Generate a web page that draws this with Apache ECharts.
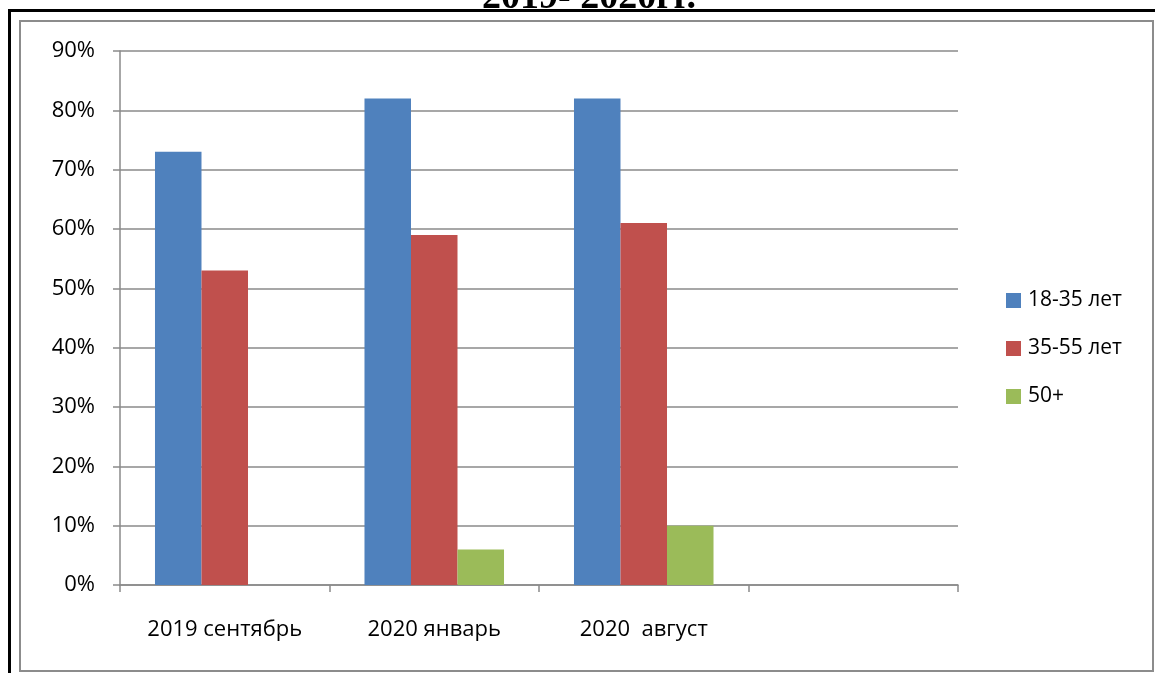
<!DOCTYPE html>
<html>
<head>
<meta charset="utf-8">
<script src="https://cdn.jsdelivr.net/npm/echarts@6/dist/echarts.min.js"></script>
<style>
  html, body { margin: 0; padding: 0; background: #fff; }
  #chart { width: 1155px; height: 673px; }
</style>
</head>
<body>
<div id="chart"></div>
<script>
// data
const categories = ["2019 сентябрь", "2020 январь", "2020  август", ""];
const seriesNames = ["18-35 лет", "35-55 лет", "50+"];
const young = [73, 82, 82, null];
const middle = [53, 59, 61, null];
const older = [null, 6, 10, null];
const colors = ["#4F81BD", "#C0504D", "#9BBB59"];

const gridColor = "#8a8a8a";
const font = "'Open Sans', 'Noto Sans', sans-serif";

const chart = echarts.init(document.getElementById("chart"));

chart.setOption({
  animation: false,
  color: colors,
  graphic: [
    {
      type: "text",
      x: 482,
      y: 17,
      z: 10,
      style: {
        text: "2019- 2020гг.",
        font: "bold 38px 'Liberation Serif', serif",
        fill: "#000",
        verticalAlign: "bottom",
      },
    },
    {
      // hides the part of the heading below the frame line
      type: "rect",
      shape: { x: 0, y: 9, width: 1155, height: 11 },
      style: { fill: "#fff" },
      z: 11,
    },
    {
      type: "line",
      shape: { x1: 8, y1: 10.5, x2: 1155, y2: 10.5 },
      style: { stroke: "#000", lineWidth: 3 },
      z: 12,
    },
    {
      type: "line",
      shape: { x1: 9.5, y1: 9, x2: 9.5, y2: 673 },
      style: { stroke: "#000", lineWidth: 3 },
      z: 12,
    },
    {
      type: "rect",
      shape: { x: 20, y: 21, width: 1133, height: 650 },
      style: { fill: "none", stroke: "#8c8c8c", lineWidth: 2 },
      z: 12,
    },
  ],
  grid: { left: 120, right: 197, top: 51, bottom: 88 },
  legend: {
    orient: "vertical",
    left: 1001,
    top: 285,
    itemWidth: 15,
    itemHeight: 15,
    itemGap: 27,
    icon: "rect",
    data: seriesNames,
    textStyle: { fontFamily: font, fontSize: 21, color: "#000", padding: [0, 0, 0, 2] },
  },
  xAxis: {
    type: "category",
    data: categories,
    axisLine: { lineStyle: { color: gridColor, width: 1.5 } },
    axisTick: { show: true, length: 7, lineStyle: { color: gridColor, width: 1.5 } },
    axisLabel: { fontFamily: font, fontSize: 22, color: "#000", margin: 34 },
  },
  yAxis: {
    type: "value",
    min: 0,
    max: 90,
    interval: 10,
    axisLine: { show: true, lineStyle: { color: gridColor, width: 1.5 } },
    axisTick: { show: true, length: 7, lineStyle: { color: gridColor, width: 1.5 } },
    splitLine: { lineStyle: { color: gridColor, width: 1.5 } },
    axisLabel: { fontFamily: font, fontSize: 22, color: "#000", margin: 25, formatter: "{value}%" },
  },
  series: [
    { name: seriesNames[0], type: "bar", data: young, barWidth: "22.2%", barGap: "0%" },
    { name: seriesNames[1], type: "bar", data: middle, barWidth: "22.2%", barGap: "0%" },
    { name: seriesNames[2], type: "bar", data: older, barWidth: "22.2%", barGap: "0%" },
  ],
});
</script>
</body>
</html>
